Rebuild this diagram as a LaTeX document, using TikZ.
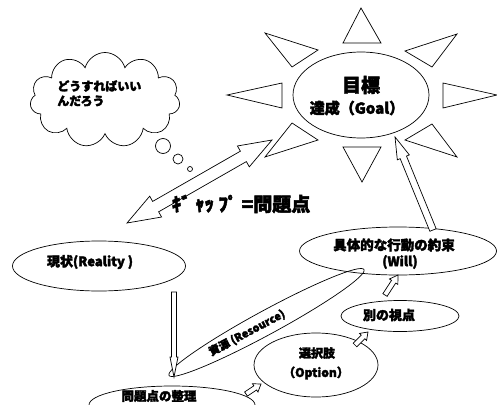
\documentclass[tikz,border=0pt]{standalone}
\usepackage{fontspec}
\setmainfont{Noto Sans CJK JP}[BoldFeatures={FakeBold=2.5}]
\usetikzlibrary{shapes.geometric,shapes.symbols,calc}
\newcommand\hollowarrow[5]{%
  \coordinate (ha-b) at ($(#2)!#5!(#1)$);
  \draw[harrow] ($(#1)!#3!90:(#2)$) -- ($(ha-b)!#3!-90:(#1)$) -- ($(ha-b)!#4!-90:(#1)$)
    -- (#2) -- ($(ha-b)!#4!90:(#1)$) -- ($(ha-b)!#3!90:(#1)$) -- ($(#1)!#3!-90:(#2)$) -- cycle;}
\newcommand\hollowdarrow[5]{%
  \coordinate (hd-a) at ($(#1)!#5!(#2)$);
  \coordinate (hd-b) at ($(#2)!#5!(#1)$);
  \draw[harrow] (#1) -- ($(hd-a)!#4!90:(#2)$) -- ($(hd-a)!#3!90:(#2)$)
    -- ($(hd-b)!#3!-90:(#1)$) -- ($(hd-b)!#4!-90:(#1)$) -- (#2)
    -- ($(hd-b)!#4!90:(#1)$) -- ($(hd-b)!#3!90:(#1)$)
    -- ($(hd-a)!#3!-90:(#2)$) -- ($(hd-a)!#4!-90:(#2)$) -- cycle;}
\begin{document}
\begin{tikzpicture}[x=1pt,y=-1pt,line width=0.7pt,
  oval/.style={draw,ellipse,inner sep=0pt},
  ray/.style={draw,line join=miter},
  harrow/.style={draw,fill=white,line join=miter},
  bub/.style={draw,circle,inner sep=0pt},
  lbl/.style={inner sep=0pt,font=\bfseries\fontsize{#1}{#1}\selectfont},
  lbl/.default=13]
\useasboundingbox (0,0) rectangle (497,404);
\clip (0,0) rectangle (497,404);

% sun rays
\draw[ray] (343,43) -- (361,8) -- (381,43) -- cycle;
\draw[ray] (265,33) -- (318,50) -- (292,67) -- cycle;
\draw[ray] (405,51) -- (457,34) -- (432,67) -- cycle;
\draw[ray] (227,95) -- (282,83) -- (282,108) -- cycle;
\draw[ray] (443,83) -- (497,95) -- (443,108) -- cycle;
\draw[ray] (265,157) -- (292,123) -- (318,140) -- cycle;
\draw[ray] (405,140) -- (432,124) -- (457,157) -- cycle;
\draw[ray] (343,147) -- (381,147) -- (362,182) -- cycle;

% goal
\node[oval,minimum width=136pt,minimum height=86pt] (goal) at (361,95) {};
\node[lbl=19] (goal1) at (361,85) {目標};
\node[lbl=15] (goal2) at (357,108) {達成（Goal）};

% cloud
\node[cloud,draw,cloud puffs=11,aspect=1.6,minimum width=150pt,minimum height=95pt] (cloud) at (105,100) {};
\node[lbl=12,anchor=west] (cl1) at (57,86) {どうすればいい};
\node[lbl=12,anchor=west] (cl2) at (57,101) {んだろう};
\node[bub,minimum size=15pt] (b1) at (163,146) {};
\node[bub,minimum size=10pt] (b2) at (178,159) {};
\node[bub,minimum size=5pt] (b3) at (190,169) {};

% gap double arrow
\coordinate (gapL) at (127,223);
\coordinate (gapR) at (272,140);
\hollowdarrow{gapL}{gapR}{6pt}{12pt}{33pt}
\node[lbl=19] (gap) at (241,204) {ｷﾞ ｬｯ ﾌﾟ =問題点};

% reality
\node[oval,minimum width=173pt,minimum height=50pt] (real) at (99,266) {};
\node[lbl=13] (realt) at (90,262) {現状(Reality )};

% resource
\node[oval,minimum width=222pt,minimum height=24pt,rotate=28.5] (res) at (266.5,322.5) {};
\node[lbl=11,rotate=28] (rest) at (247,333) {資源 (Resource)};

% problem
\node[oval,minimum width=166pt,minimum height=38pt] (prob) at (172,405) {};
\node[lbl=12.5] (probt) at (159,396) {問題点の整理};

% option
\node[oval,minimum width=124pt,minimum height=64pt] (opt) at (316,365) {};
\node[lbl=12] (opt1) at (317,353) {選択肢};
\node[lbl=12] (opt2) at (316,373) {（Option）};

% view
\node[oval,minimum width=118pt,minimum height=31pt] (view) at (400,316) {};
\node[lbl=13] (viewt) at (389,315) {別の視点};

% will
\node[oval,minimum width=197pt,minimum height=48pt] (will) at (398,251) {};
\node[lbl=13.5] (will1) at (394,245) {具体的な行動の約束};
\node[lbl=13] (will2) at (400,262) {(Will)};

% arrows
\coordinate (rp1) at (174,292);
\coordinate (rp2) at (174,377);
\hollowarrow{rp1}{rp2}{2.5pt}{4pt}{20pt}
\coordinate (po1) at (246,394);
\coordinate (po2) at (261,384);
\hollowarrow{po1}{po2}{2.5pt}{5pt}{7pt}
\coordinate (ov1) at (355,345);
\coordinate (ov2) at (368,332);
\hollowarrow{ov1}{ov2}{2.5pt}{5pt}{7pt}
\coordinate (vw1) at (385,295);
\coordinate (vw2) at (398,275);
\hollowarrow{vw1}{vw2}{2.5pt}{5pt}{8pt}
\coordinate (wg1) at (433,230);
\coordinate (wg2) at (395,137);
\hollowarrow{wg1}{wg2}{3.4pt}{6.5pt}{22pt}
\end{tikzpicture}
\end{document}
